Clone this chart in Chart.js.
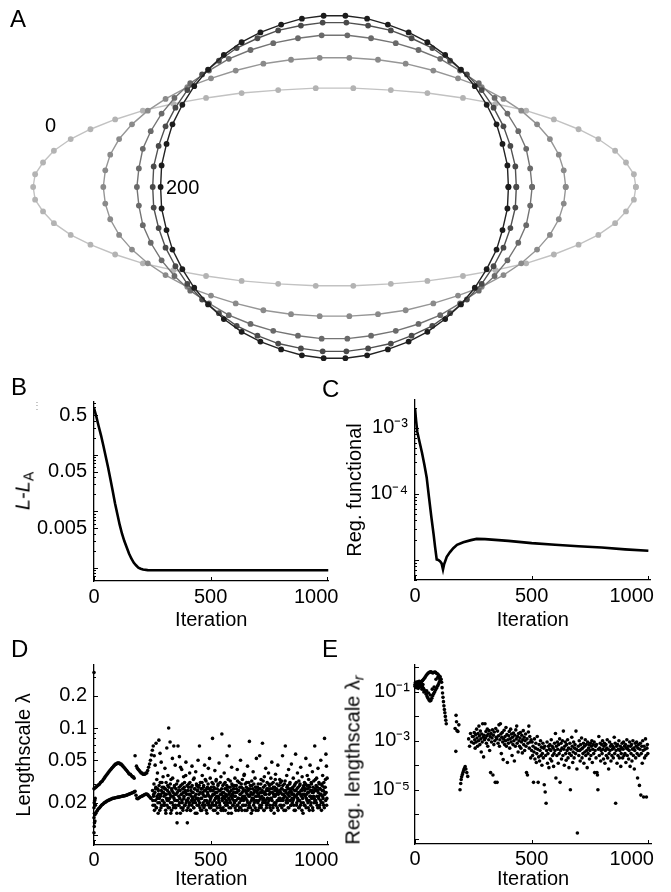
<!DOCTYPE html>
<html>
<head>
<meta charset="utf-8">
<script src="https://cdn.jsdelivr.net/npm/chart.js@4.4.0/dist/chart.umd.min.js"></script>
<style>
html,body{margin:0;padding:0;background:#fff;}
#wrap{position:relative;width:671px;height:892px;overflow:hidden;font-family:"Liberation Sans",Arial,Helvetica,sans-serif;color:#000;background:#fff;}
canvas{position:absolute;}
.lbl{position:absolute;line-height:1;white-space:nowrap;}
.ytitle{position:absolute;white-space:nowrap;font-size:20px;line-height:1;transform:translate(-50%,-50%) rotate(-90deg);}
.ytitle sub{font-size:14px;vertical-align:-4px;line-height:1;}
</style>
</head>
<body>
<div id="wrap">
<canvas id="cA" width="671" height="372" style="left:0px;top:0px"></canvas>
<canvas id="cB" width="340" height="245" style="left:0px;top:390px"></canvas>
<canvas id="cC" width="336" height="245" style="left:335px;top:390px"></canvas>
<canvas id="cD" width="340" height="237" style="left:0px;top:655px"></canvas>
<canvas id="cE" width="336" height="237" style="left:335px;top:655px"></canvas>

<div class="lbl" style="left:10px;top:7px;font-size:24px">A</div>
<div class="lbl" style="left:45px;top:115px;font-size:20px">0</div>
<div class="lbl" style="left:166px;top:177px;font-size:20px">200</div>
<div class="lbl" style="left:11px;top:375px;font-size:24px">B</div>
<div class="lbl" style="left:322px;top:377px;font-size:24px">C</div>
<div class="lbl" style="left:11px;top:637px;font-size:24px">D</div>
<div class="lbl" style="left:322px;top:637px;font-size:24px">E</div>
<div class="lbl" style="left:32px;top:401px;font-size:10px;color:#999">&#8942;</div>
<div class="ytitle" style="left:24px;top:491px"><i>L</i>-<i>L</i><sub>A</sub></div>
<div class="ytitle" style="left:354px;top:760px">Reg. lengthscale &#955;<sub><i>r</i></sub></div>
</div>

<script>
// ---------- Panel A: contour shapes (iterations 0 ... 200) ----------
const shapeLabels = ['0', '50', '100', '150', '200'];
const e0x = [3.05,3.03,2.95,2.84,2.67,2.47,2.22,1.94,1.63,1.30,0.94,0.57,0.19,-0.19,-0.57,-0.94,-1.30,-1.63,-1.94,-2.22,-2.47,-2.67,-2.84,-2.95,-3.03,-3.05,-3.03,-2.95,-2.84,-2.67,-2.47,-2.22,-1.94,-1.63,-1.30,-0.94,-0.57,-0.19,0.19,0.57,0.94,1.30,1.63,1.94,2.22,2.47,2.67,2.84,2.95,3.03];
const e0y = [0,0.13,0.25,0.37,0.49,0.59,0.69,0.78,0.85,0.91,0.96,0.99,1.01,1.01,0.99,0.96,0.91,0.85,0.78,0.69,0.59,0.49,0.37,0.25,0.13,0,-0.13,-0.25,-0.37,-0.49,-0.59,-0.69,-0.78,-0.85,-0.91,-0.96,-0.99,-1.01,-1.01,-0.99,-0.96,-0.91,-0.85,-0.78,-0.69,-0.59,-0.49,-0.37,-0.25,-0.13];
const e1x = [2.34,2.32,2.27,2.18,2.05,1.89,1.71,1.49,1.25,1.00,0.72,0.44,0.15,-0.15,-0.44,-0.72,-1.00,-1.25,-1.49,-1.71,-1.89,-2.05,-2.18,-2.27,-2.32,-2.34,-2.32,-2.27,-2.18,-2.05,-1.89,-1.71,-1.49,-1.25,-1.00,-0.72,-0.44,-0.15,0.15,0.44,0.72,1.00,1.25,1.49,1.71,1.89,2.05,2.18,2.27,2.32];
const e1y = [0,0.17,0.33,0.49,0.64,0.78,0.90,1.02,1.11,1.19,1.26,1.30,1.32,1.32,1.30,1.26,1.19,1.11,1.02,0.90,0.78,0.64,0.49,0.33,0.17,0,-0.17,-0.33,-0.49,-0.64,-0.78,-0.90,-1.02,-1.11,-1.19,-1.26,-1.30,-1.32,-1.32,-1.30,-1.26,-1.19,-1.11,-1.02,-0.90,-0.78,-0.64,-0.49,-0.33,-0.17];
const e2x = [2.00,1.98,1.94,1.86,1.75,1.62,1.46,1.27,1.07,0.85,0.62,0.37,0.13,-0.13,-0.37,-0.62,-0.85,-1.07,-1.27,-1.46,-1.62,-1.75,-1.86,-1.94,-1.98,-2.00,-1.98,-1.94,-1.86,-1.75,-1.62,-1.46,-1.27,-1.07,-0.85,-0.62,-0.37,-0.13,0.13,0.37,0.62,0.85,1.07,1.27,1.46,1.62,1.75,1.86,1.94,1.98];
const e2y = [0,0.19,0.39,0.57,0.75,0.91,1.06,1.19,1.31,1.40,1.47,1.52,1.55,1.55,1.52,1.47,1.40,1.31,1.19,1.06,0.91,0.75,0.57,0.39,0.19,0,-0.19,-0.39,-0.57,-0.75,-0.91,-1.06,-1.19,-1.31,-1.40,-1.47,-1.52,-1.55,-1.55,-1.52,-1.47,-1.40,-1.31,-1.19,-1.06,-0.91,-0.75,-0.57,-0.39,-0.19];
const e3x = [1.84,1.83,1.78,1.71,1.61,1.49,1.34,1.17,0.99,0.78,0.57,0.34,0.12,-0.12,-0.34,-0.57,-0.78,-0.99,-1.17,-1.34,-1.49,-1.61,-1.71,-1.78,-1.83,-1.84,-1.83,-1.78,-1.71,-1.61,-1.49,-1.34,-1.17,-0.99,-0.78,-0.57,-0.34,-0.12,0.12,0.34,0.57,0.78,0.99,1.17,1.34,1.49,1.61,1.71,1.78,1.83];
const e3y = [0,0.21,0.42,0.62,0.81,0.99,1.15,1.29,1.42,1.52,1.60,1.65,1.68,1.68,1.65,1.60,1.52,1.42,1.29,1.15,0.99,0.81,0.62,0.42,0.21,0,-0.21,-0.42,-0.62,-0.81,-0.99,-1.15,-1.29,-1.42,-1.52,-1.60,-1.65,-1.68,-1.68,-1.65,-1.60,-1.52,-1.42,-1.29,-1.15,-0.99,-0.81,-0.62,-0.42,-0.21];
const e4x = [1.76,1.75,1.70,1.64,1.54,1.42,1.28,1.12,0.94,0.75,0.54,0.33,0.11,-0.11,-0.33,-0.54,-0.75,-0.94,-1.12,-1.28,-1.42,-1.54,-1.64,-1.70,-1.75,-1.76,-1.75,-1.70,-1.64,-1.54,-1.42,-1.28,-1.12,-0.94,-0.75,-0.54,-0.33,-0.11,0.11,0.33,0.54,0.75,0.94,1.12,1.28,1.42,1.54,1.64,1.70,1.75];
const e4y = [0,0.22,0.44,0.64,0.84,1.03,1.20,1.35,1.48,1.58,1.66,1.72,1.75,1.75,1.72,1.66,1.58,1.48,1.35,1.20,1.03,0.84,0.64,0.44,0.22,0,-0.22,-0.44,-0.64,-0.84,-1.03,-1.20,-1.35,-1.48,-1.58,-1.66,-1.72,-1.75,-1.75,-1.72,-1.66,-1.58,-1.48,-1.35,-1.20,-1.03,-0.84,-0.64,-0.44,-0.22];

// ---------- Axis ticks ----------
const iterTicks = [0, 500, 1000];
const iterTickLabels = ['0', '500', '1000'];
const bTicks = [0.5, 0.05, 0.005];
const bTickLabels = ['0.5', '0.05', '0.005'];
const cTicks = [1e-3, 1e-4];
const cTickLabels = ['10\u207B\u00B3', '10\u207B\u2074'];
const dTicks = [0.2, 0.1, 0.05, 0.02];
const dTickLabels = ['0.2', '0.1', '0.05', '0.02'];
const eTicks = [1e-1, 1e-3, 1e-5];
const eTickLabels = ['10\u207B\u00B9', '10\u207B\u00B3', '10\u207B\u2075'];

// ---------- Panel B: L - L_A ----------
const bIter = [0,10,20,30,40,50,60,70,80,90,100,110,120,130,140,150,160,170,180,190,200,210,230,260,300,400,500,600,700,800,900,1005];
const bVal = [0.66,0.468,0.316,0.219,0.145,0.0933,0.0603,0.0372,0.0229,0.0138,0.00891,0.00575,0.00398,0.00295,0.00229,0.00178,0.00145,0.00123,0.0011,0.001,0.000955,0.000923,0.000902,0.0009,0.0009,0.0009,0.0009,0.0009,0.0009,0.0009,0.0009,0.0009];

// ---------- Panel C: regularisation functional ----------
const cIter = [0,5,10,20,30,40,50,60,70,80,86,93,100,108,114,120,125,129,136,150,164,180,207,240,264,300,400,500,600,700,800,900,1000];
const cVal = [2.0e-3,1.26e-3,8.7e-4,6.0e-4,4.2e-4,2.8e-4,1.78e-4,8.9e-5,4.5e-5,2.4e-5,1.58e-5,1.02e-5,1.0e-5,9.5e-6,8.9e-6,7.2e-6,8.7e-6,9.5e-6,1.12e-5,1.32e-5,1.51e-5,1.7e-5,1.86e-5,2.0e-5,2.09e-5,2.07e-5,1.95e-5,1.8e-5,1.7e-5,1.62e-5,1.55e-5,1.45e-5,1.38e-5];

// ---------- Iterations of the scattered phase (D and E) ----------
const scatterIter = [
250,252,254,256,258,260,262,264,266,268,270,272,274,276,278,280,282,284,286,288,290,292,294,296,298,
300,302,304,306,308,310,312,314,316,318,320,322,324,326,328,330,332,334,336,338,340,342,344,346,348,
350,352,354,356,358,360,362,364,366,368,370,372,374,376,378,380,382,384,386,388,390,392,394,396,398,
400,402,404,406,408,410,412,414,416,418,420,422,424,426,428,430,432,434,436,438,440,442,444,446,448,
450,452,454,456,458,460,462,464,466,468,470,472,474,476,478,480,482,484,486,488,490,492,494,496,498,
500,502,504,506,508,510,512,514,516,518,520,522,524,526,528,530,532,534,536,538,540,542,544,546,548,
550,552,554,556,558,560,562,564,566,568,570,572,574,576,578,580,582,584,586,588,590,592,594,596,598,
600,602,604,606,608,610,612,614,616,618,620,622,624,626,628,630,632,634,636,638,640,642,644,646,648,
650,652,654,656,658,660,662,664,666,668,670,672,674,676,678,680,682,684,686,688,690,692,694,696,698,
700,702,704,706,708,710,712,714,716,718,720,722,724,726,728,730,732,734,736,738,740,742,744,746,748,
750,752,754,756,758,760,762,764,766,768,770,772,774,776,778,780,782,784,786,788,790,792,794,796,798,
800,802,804,806,808,810,812,814,816,818,820,822,824,826,828,830,832,834,836,838,840,842,844,846,848,
850,852,854,856,858,860,862,864,866,868,870,872,874,876,878,880,882,884,886,888,890,892,894,896,898,
900,902,904,906,908,910,912,914,916,918,920,922,924,926,928,930,932,934,936,938,940,942,944,946,948,
950,952,954,956,958,960,962,964,966,968,970,972,974,976,978,980,982,984,986,988,990,992,994,996,998];
const scatterIterOdd = [
251,253,255,257,259,261,263,265,267,269,271,273,275,277,279,281,283,285,287,289,291,293,295,297,299,
301,303,305,307,309,311,313,315,317,319,321,323,325,327,329,331,333,335,337,339,341,343,345,347,349,
351,353,355,357,359,361,363,365,367,369,371,373,375,377,379,381,383,385,387,389,391,393,395,397,399,
401,403,405,407,409,411,413,415,417,419,421,423,425,427,429,431,433,435,437,439,441,443,445,447,449,
451,453,455,457,459,461,463,465,467,469,471,473,475,477,479,481,483,485,487,489,491,493,495,497,499,
501,503,505,507,509,511,513,515,517,519,521,523,525,527,529,531,533,535,537,539,541,543,545,547,549,
551,553,555,557,559,561,563,565,567,569,571,573,575,577,579,581,583,585,587,589,591,593,595,597,599,
601,603,605,607,609,611,613,615,617,619,621,623,625,627,629,631,633,635,637,639,641,643,645,647,649,
651,653,655,657,659,661,663,665,667,669,671,673,675,677,679,681,683,685,687,689,691,693,695,697,699,
701,703,705,707,709,711,713,715,717,719,721,723,725,727,729,731,733,735,737,739,741,743,745,747,749,
751,753,755,757,759,761,763,765,767,769,771,773,775,777,779,781,783,785,787,789,791,793,795,797,799,
801,803,805,807,809,811,813,815,817,819,821,823,825,827,829,831,833,835,837,839,841,843,845,847,849,
851,853,855,857,859,861,863,865,867,869,871,873,875,877,879,881,883,885,887,889,891,893,895,897,899,
901,903,905,907,909,911,913,915,917,919,921,923,925,927,929,931,933,935,937,939,941,943,945,947,949,
951,953,955,957,959,961,963,965,967,969,971,973,975,977,979,981,983,985,987,989,991,993,995,997,999];

// ---------- Panel D: lengthscale ----------
const dStartIter = [0,0,1,2,1,3,2,0,4,5,6];
const dStartVal = [0.33,0.0105,0.012,0.013,0.020,0.021,0.016,0.018,0.0135,0.022,0.019];
const dUpperIter = [0,4,8,12,16,20,24,28,32,36,40,44,48,52,56,60,64,68,72,76,80,84,88,92,96,100,104,108,112,116,120,124,128,132,136,140,144,148,152,156,160,164,168,172];
const dUpperVal = [.027,.0275,.028,.0285,.029,.0295,.030,.031,.0315,.032,.033,.034,.035,.036,.037,.038,.039,.040,.041,.042,.043,.044,.045,.046,.046,.047,.047,.047,.046,.046,.045,.044,.043,.042,.041,.040,.039,.038,.037,.037,.036,.035,.035,.034];
const dUpper2Iter = [176,182,186,190,194,198,202,206,210,214,218,222,226,230,234,238,242,246];
const dUpper2Val = [.055,.044,.042,.041,.040,.039,.038,.038,.037,.037,.037,.038,.038,.040,.043,.046,.050,.056];
const dLowerIter = [0,4,8,12,16,20,24,28,32,36,40,44,48,52,56,60,64,68,72,76,80,84,88,92,96,100,104,108,112,116,120,124,128,132,136,140,144,148,152,156,160,164,168,172,176,180,184,188,192,196,200,204,208,212,216,220,224,228,232,236,240,244];
const dLowerVal = [.0145,.0155,.016,.0167,.0172,.0177,.018,.0185,.019,.0193,.0196,.020,.0202,.0205,.0208,.021,.0212,.0214,.0216,.0218,.022,.0221,.0222,.0223,.0224,.0225,.0226,.0227,.0228,.0229,.023,.0231,.0232,.0233,.0234,.0236,.0238,.024,.0242,.0244,.0246,.0248,.025,.0253,.0256,.0235,.022,.0218,.0222,.0225,.0228,.023,.0232,.0235,.0238,.024,.0242,.024,.0236,.023,.0225,.022];
const dScatterVal = [
.062,.021,.068,.024,.055,.019,.045,.027,.072,.018,.023,.038,.020,.026,.077,.022,.017,.031,.024,.048,.019,.028,.021,.035,.025,
.023,.019,.042,.027,.016,.024,.065,.021,.029,.018,.1,.025,.022,.074,.020,.033,.017,.026,.052,.023,.019,.068,.028,.021,.045,
.018,.024,.030,.013,.021,.068,.026,.019,.054,.022,.016,.029,.024,.041,.020,.027,.018,.035,.023,.031,.019,.025,.048,.021,.017,
.013,.026,.022,.030,.019,.038,.024,.017,.028,.021,.044,.025,.020,.033,.018,.027,.023,.016,.039,.022,.029,.019,.026,.050,.021,
.024,.068,.018,.031,.022,.027,.017,.036,.025,.020,.029,.023,.045,.019,.026,.032,.021,.016,.028,.024,.042,.020,.027,.018,.034,
.022,.026,.019,.031,.080,.024,.017,.028,.021,.040,.025,.019,.033,.023,.027,.016,.030,.022,.047,.020,.026,.018,.035,.024,.088,
.021,.029,.017,.025,.038,.022,.031,.019,.027,.023,.055,.020,.028,.016,.024,.068,.021,.032,.018,.026,.043,.022,.029,.019,.025,
.027,.020,.034,.023,.017,.029,.025,.041,.019,.026,.022,.031,.018,.024,.050,.021,.028,.017,.033,.023,.026,.019,.037,.022,.030,
.019,.025,.031,.021,.044,.027,.018,.023,.075,.020,.029,.024,.016,.032,.022,.027,.039,.019,.025,.021,.034,.028,.017,.052,.023,
.026,.020,.030,.023,.018,.055,.027,.022,.033,.019,.025,.072,.021,.028,.017,.035,.024,.020,.042,.026,.019,.031,.022,.027,.038,
.021,.029,.018,.025,.034,.022,.048,.027,.019,.031,.024,.016,.028,.023,.037,.020,.026,.030,.018,.045,.024,.021,.029,.033,.022,
.025,.019,.032,.027,.055,.021,.024,.017,.030,.023,.068,.026,.020,.036,.022,.029,.018,.041,.025,.021,.031,.027,.019,.046,.024,
.020,.028,.034,.022,.017,.026,.030,.057,.023,.019,.027,.038,.021,.025,.032,.018,.029,.024,.043,.020,.026,.035,.022,.016,.028,
.024,.031,.019,.027,.052,.022,.029,.036,.025,.018,.033,.021,.028,.045,.023,.020,.030,.026,.039,.017,.025,.032,.022,.068,.027,
.021,.029,.034,.019,.026,.042,.023,.031,.018,.027,.024,.050,.020,.030,.026,.036,.022,.019,.028,.080,.025,.033,.057,.044,.022];
const dScatterValOdd = [
.026,.019,.023,.030,.017,.025,.021,.028,.018,.033,.022,.027,.016,.024,.029,.020,.058,.023,.018,.026,.031,.021,.025,.019,.028,
.020,.027,.024,.017,.031,.022,.019,.026,.036,.021,.028,.018,.024,.030,.016,.023,.027,.020,.034,.025,.018,.022,.029,.024,.019,
.027,.021,.016,.025,.032,.019,.023,.028,.020,.026,.043,.018,.024,.021,.030,.017,.025,.022,.028,.019,.026,.036,.020,.024,.029,
.021,.018,.028,.024,.020,.031,.017,.026,.023,.019,.029,.022,.025,.018,.034,.021,.027,.020,.024,.030,.016,.026,.022,.028,.019,
.029,.020,.025,.017,.027,.022,.031,.019,.024,.028,.018,.026,.021,.033,.023,.017,.027,.020,.025,.030,.019,.023,.052,.021,.026,
.018,.028,.023,.020,.026,.030,.019,.024,.027,.017,.022,.032,.020,.025,.018,.029,.023,.021,.026,.019,.031,.024,.017,.027,.022,
.025,.018,.023,.030,.020,.027,.017,.024,.021,.029,.019,.026,.033,.022,.018,.025,.028,.020,.023,.016,.030,.024,.019,.027,.021,
.023,.029,.018,.025,.021,.027,.019,.032,.022,.017,.026,.020,.028,.024,.018,.030,.022,.025,.019,.027,.021,.036,.023,.017,.026,
.022,.028,.017,.024,.020,.026,.031,.019,.023,.027,.018,.025,.021,.029,.017,.024,.022,.030,.020,.026,.018,.023,.028,.021,.025,
.028,.017,.024,.021,.027,.019,.025,.030,.018,.023,.026,.020,.032,.022,.017,.025,.029,.021,.024,.018,.027,.022,.020,.026,.030,
.024,.019,.027,.022,.017,.030,.021,.025,.018,.028,.023,.020,.026,.033,.019,.024,.027,.021,.025,.017,.029,.022,.026,.019,.031,
.021,.027,.018,.024,.029,.022,.019,.026,.023,.032,.017,.025,.021,.028,.020,.024,.027,.018,.023,.030,.021,.026,.019,.025,.022,
.027,.021,.024,.019,.029,.023,.017,.026,.031,.020,.024,.022,.028,.018,.025,.021,.030,.019,.026,.023,.017,.027,.024,.020,.029,
.019,.026,.023,.030,.018,.024,.021,.027,.020,.025,.029,.017,.023,.026,.019,.031,.022,.025,.018,.028,.023,.020,.026,.021,.033,
.026,.020,.023,.028,.018,.025,.022,.030,.019,.027,.021,.024,.017,.029,.023,.020,.026,.031,.018,.024,.028,.021,.025,.019,.034];

// ---------- Panel E: regularisation lengthscale ----------
const eUpperIter = [0,4,8,12,16,20,24,28,32,36,40,44,48,52,56,60,64,68,72,76,80,84,88,92,96,100,104,108,112,114,116,118,120,122,124,126,128,130,132,134];
const eUpperVal = [.2,.21,.22,.22,.23,.24,.25,.27,.29,.32,.36,.41,.47,.53,.58,.62,.65,.66,.64,.60,.62,.65,.63,.58,.55,.5,.45,.42,.33,.25,.15,.09,.06,.04,.027,.019,.014,.010,.007,.005];
const eLowerIter = [0,4,8,12,16,20,24,28,32,36,40,44,48,52,56,60,64,68,72,76,80,84,88,92,96,100,104,108];
const eLowerVal = [.17,.18,.19,.18,.19,.2,.19,.18,.16,.14,.12,.1,.08,.065,.055,.047,.043,.045,.055,.07,.085,.1,.12,.14,.17,.2,.25,.3];
const eLooseIter = [2,6,10,14,18,22,26,30,34,38,50,58,66,74,82,90,98,106];
const eLooseVal = [.25,.15,.26,.14,.27,.16,.23,.13,.2,.1,.11,.09,.075,.13,.16,.33,.4,.35];
const eMidIter = [172,175,176,178,180,184,188,193,196,198,200,203,206,209,212,215,218,222,226,230,234,238,242,246];
const eMidVal = [.0032,3.7e-4,.011,.006,.0026,.0024,.0045,1e-5,1.8e-5,2.6e-5,3.4e-5,4.2e-5,5.2e-5,6.3e-5,7.5e-5,8.8e-5,7e-5,5e-5,3.5e-5,1.2e-3,6e-4,2e-3,9e-4,1.5e-3];
const eScatterVal = [
1.5e-3,8e-4,2.2e-3,1.1e-3,5e-4,1.8e-3,9e-4,3e-3,1.3e-3,6e-4,2e-3,1e-3,4e-3,1.6e-3,7e-4,2.5e-3,1.2e-3,3.5e-4,1.9e-3,9e-4,5e-3,1.4e-3,2.2e-4,1.7e-3,1.1e-3,
5e-3,1.3e-3,2.4e-3,8e-4,1.6e-3,3e-3,6e-4,1.9e-3,1.1e-3,2.6e-3,4e-4,1.5e-3,5e-5,2e-3,9e-4,1.3e-3,2.8e-3,4e-5,1.7e-3,7e-4,2.3e-3,1e-3,2e-5,3.2e-3,1.4e-3,
1.2e-3,2e-5,2.5e-3,8e-4,1.6e-3,4.5e-3,6e-4,1.1e-3,5e-3,1.9e-3,3e-4,1.4e-3,2.2e-3,9e-4,1.7e-4,1.2e-3,2.7e-3,7e-4,1.5e-3,1e-3,3.5e-3,6e-4,1.8e-3,1.3e-4,1.1e-3,
8e-4,1.6e-3,2.4e-3,5e-4,1.2e-3,3e-3,9e-4,1.9e-3,2.5e-4,1.4e-3,7e-4,2.1e-3,1e-3,1.5e-4,1.7e-3,6e-4,2.8e-3,1.2e-3,4e-3,8e-4,1.5e-3,3.5e-4,2e-3,1e-3,6e-4,
1.3e-3,2.2e-3,5e-4,9e-4,1.7e-3,3.2e-4,1.1e-3,2.6e-3,7e-4,1.4e-3,4e-4,1e-3,1.9e-3,6e-4,5e-5,1.2e-3,4e-5,8e-4,2.3e-3,4e-3,5e-4,1.5e-3,9e-4,2e-4,1.1e-3,
4e-4,9e-4,2.5e-4,6e-4,2e-5,3.5e-4,1.2e-3,1.8e-4,5e-4,8e-4,1.3e-4,3e-4,1.5e-3,4.5e-4,2e-5,2.2e-4,7e-4,1.5e-4,4e-4,1e-3,2.5e-4,5.5e-4,1e-4,3e-4,8e-4,
2e-4,5e-4,1.6e-5,6e-4,8e-6,2.5e-4,2.8e-6,4e-4,9e-4,1.2e-4,3e-4,6e-4,8e-5,4.5e-4,7e-4,1.8e-4,4e-4,1.1e-3,1.5e-4,6e-4,2.5e-4,5e-4,9e-5,3e-4,8e-4,
4e-4,2e-3,3e-5,6e-4,2.5e-4,9e-4,4.5e-4,1.2e-4,7e-4,3e-4,1.2e-3,2e-5,4e-4,8e-4,1.8e-4,5e-4,1e-3,2.5e-4,2.5e-3,4.5e-4,1e-4,6e-4,9e-4,3e-4,1.6e-4,
7e-4,4e-4,1.1e-3,2e-4,5e-4,8e-5,3e-4,8e-4,1e-5,4.5e-4,2.5e-4,1.4e-3,6e-4,1.3e-4,3.5e-4,9e-4,2e-4,5e-4,7e-4,3e-4,2.5e-3,4.5e-4,7e-5,1.7e-7,4e-4,
6e-4,2.5e-4,1e-3,4e-4,1.5e-4,7e-4,4.5e-4,1.3e-3,2e-4,5e-4,3e-4,8e-4,1.2e-4,6e-4,3.5e-4,1.1e-3,2.5e-4,7e-4,4e-4,8e-5,9e-4,3e-4,5e-4,7e-4,1.8e-4,
4e-4,8e-4,2.5e-4,6e-4,1e-3,1.3e-4,4.5e-4,7e-4,3e-4,9e-4,5e-5,4e-4,6e-4,2e-4,7e-4,5e-5,4e-5,1e-5,4.5e-4,1.5e-3,2.5e-4,5e-4,8e-4,1.5e-4,4e-4,
7e-4,3e-4,1e-3,4.5e-4,1.8e-4,6e-4,8e-4,1.2e-4,4e-4,7e-4,2.5e-4,5e-4,1.1e-3,2e-4,4.5e-4,7e-5,3e-4,9e-4,4e-4,6e-4,1.5e-4,7e-4,2.5e-4,4.5e-4,6e-4,
2e-4,5e-4,1.4e-3,3e-4,8e-4,2.8e-6,4e-4,6e-4,1.2e-4,7e-4,2.5e-4,4.5e-4,1e-3,2e-4,4e-4,6e-4,9e-5,3e-4,5e-4,8e-4,2e-4,4.5e-4,9e-4,2.5e-4,6e-4,
3e-4,7e-4,1.3e-4,5e-4,1.1e-3,2.5e-4,4.5e-4,6e-4,1.8e-4,4e-4,9e-4,9e-5,6e-4,3e-4,7e-4,1.5e-4,4.5e-4,1e-3,2.5e-4,5e-4,7e-5,4e-4,8e-4,2e-4,6e-4,
9e-4,3e-4,3e-5,5e-4,7e-4,2.5e-4,1.5e-5,4.5e-4,8e-4,6e-6,3e-4,6e-4,1.2e-4,1e-3,4e-4,5e-6,6e-4,2e-4,4.5e-4,1.2e-3,2.5e-4,5e-6,5e-4,7e-4,3e-4];

// ---------- Rendering ----------
const FONT = "'Liberation Sans', Arial, Helvetica, sans-serif";
Chart.defaults.font.family = FONT;
Chart.defaults.color = '#000';

function pts(xs, ys) { return xs.map((x, i) => ({ x: x, y: ys[i] })); }

const innerTicks = {
  id: 'innerTicks',
  afterDraw(chart, args, opts) {
    const ctx = chart.ctx, a = chart.chartArea, xs = chart.scales.x, ys = chart.scales.y;
    ctx.save();
    ctx.strokeStyle = '#000';
    ctx.lineWidth = 1;
    ctx.beginPath();
    xs.ticks.forEach(t => {
      const p = Math.round(xs.getPixelForValue(t.value)) + 0.5;
      ctx.moveTo(p, a.bottom); ctx.lineTo(p, a.bottom - 4);
    });
    ys.ticks.forEach(t => {
      const p = Math.round(ys.getPixelForValue(t.value)) + 0.5;
      ctx.moveTo(a.left, p); ctx.lineTo(a.left + 4, p);
    });
    const lo = Math.floor(Math.log10(ys.min)), hi = Math.ceil(Math.log10(ys.max));
    for (let k = lo; k <= hi; k++) {
      for (let m = 1; m <= 9; m++) {
        if (opts.minor === 'decade' && m !== 1) continue;
        const v = m * Math.pow(10, k);
        if (v < ys.min || v > ys.max) continue;
        const p = Math.round(ys.getPixelForValue(v)) + 0.5;
        ctx.moveTo(a.left, p); ctx.lineTo(a.left + (m === 1 ? 4 : 2), p);
      }
    }
    ctx.stroke();
    ctx.restore();
  }
};

function zeroPad(s) { s.paddingLeft = 0; s.paddingRight = 0; s.paddingTop = 0; s.paddingBottom = 0; }

function makePanel(id, o) {
  return new Chart(document.getElementById(id), {
    type: 'scatter',
    data: { datasets: o.datasets },
    options: {
      responsive: false,
      animation: false,
      devicePixelRatio: 1,
      events: [],
      layout: { padding: o.pad, autoPadding: false },
      plugins: { legend: { display: false }, tooltip: { enabled: false }, innerTicks: { minor: o.minor } },
      scales: {
        x: {
          type: 'linear', min: 0, max: o.xMax,
          grid: { display: false, drawTicks: false },
          border: { display: true, color: '#000', width: 1.3 },
          ticks: {
            font: { size: 20 }, color: '#000', padding: o.xTickPad, autoSkip: false, maxRotation: 0, minRotation: 0,
            callback: (v, i) => iterTickLabels[i] + (i === iterTickLabels.length - 1 ? o.lastShift : '')
          },
          afterBuildTicks: s => { s.ticks = iterTicks.map(v => ({ value: v })); },
          afterFit: s => { s.height = o.xH; zeroPad(s); },
          title: { display: true, text: 'Iteration', font: { size: 20 }, color: '#000', padding: { top: 0, bottom: o.xTitlePad } }
        },
        y: {
          type: 'logarithmic', min: o.yMin, max: o.yMax,
          grid: { display: false, drawTicks: false },
          border: { display: true, color: '#000', width: 1.3 },
          ticks: {
            font: { size: 20 }, color: '#000', padding: o.yTickPad, autoSkip: false,
            callback: (v, i) => o.yTickLabels[i]
          },
          afterBuildTicks: s => { s.ticks = o.yTicks.map(v => ({ value: v })); },
          afterFit: s => { s.width = o.yW; zeroPad(s); },
          title: o.yTitle
            ? { display: true, text: o.yTitle, font: { size: 20 }, color: '#000', padding: { top: o.yTitlePad, bottom: 0 } }
            : { display: false }
        }
      }
    },
    plugins: [innerTicks]
  });
}

// Panel A
(function () {
  const xsA = [e0x, e1x, e2x, e3x, e4x];
  const ysA = [e0y, e1y, e2y, e3y, e4y];
  const dotColors = ['#b3b3b3', '#8a8a8a', '#6a6a6a', '#4a4a4a', '#1c1c1c'];
  const lineColors = ['#c2c2c2', '#969696', '#747474', '#515151', '#222222'];
  const datasets = [];
  for (let i = xsA.length - 1; i >= 0; i--) {
    const d = pts(xsA[i], ysA[i]);
    d.push({ x: xsA[i][0], y: ysA[i][0] });
    datasets.push({
      label: shapeLabels[i], data: d, showLine: true,
      borderColor: lineColors[i], borderWidth: 1.4,
      pointRadius: 2.9, pointBackgroundColor: dotColors[i], pointBorderWidth: 0,
      clip: false
    });
  }
  new Chart(document.getElementById('cA'), {
    type: 'scatter',
    data: { datasets: datasets },
    options: {
      responsive: false, animation: false, devicePixelRatio: 1, events: [],
      layout: { padding: 0 },
      plugins: { legend: { display: false }, tooltip: { enabled: false } },
      scales: {
        x: { type: 'linear', display: false, min: -3.345, max: 3.365 },
        y: { type: 'linear', display: false, min: -1.85, max: 1.87 }
      }
    }
  });
})();

// Panel B
makePanel('cB', {
  datasets: [{ data: pts(bIter, bVal), showLine: true, borderColor: '#000', borderWidth: 2.6, pointRadius: 0, tension: 0 }],
  pad: { left: 0, right: 11.5, top: 12, bottom: 0 },
  xMax: 1005, xH: 54, xTickPad: 4, xTitlePad: 3, lastShift: '    ',
  yMin: 0.00058, yMax: 0.85, yW: 94, yTickPad: 7,
  yTicks: bTicks, yTickLabels: bTickLabels, yTitle: null, minor: 'full'
});

// Panel C
makePanel('cC', {
  datasets: [{ data: pts(cIter, cVal), showLine: true, borderColor: '#000', borderWidth: 2.6, pointRadius: 0, tension: 0 }],
  pad: { left: 0, right: 20.3, top: 10, bottom: 0 },
  xMax: 1010, xH: 55, xTickPad: 4, xTitlePad: 3, lastShift: '      ',
  yMin: 4.98e-6, yMax: 2.65e-3, yW: 80, yTickPad: 7,
  yTicks: cTicks, yTickLabels: cTickLabels, yTitle: 'Reg. functional', yTitlePad: 8, minor: 'full'
});

// Panel D
const dPts = [].concat(
  pts(dStartIter, dStartVal), pts(dUpperIter, dUpperVal), pts(dUpper2Iter, dUpper2Val),
  pts(dLowerIter, dLowerVal), pts(scatterIter, dScatterVal), pts(scatterIterOdd, dScatterValOdd));
makePanel('cD', {
  datasets: [{ data: dPts, showLine: false, pointRadius: 1.8, pointBackgroundColor: '#000', pointBorderWidth: 0, clip: false }],
  pad: { left: 0, right: 11.5, top: 10, bottom: 0 },
  xMax: 1005, xH: 47, xTickPad: 3, xTitlePad: 1, lastShift: '    ',
  yMin: 0.00807, yMax: 0.388, yW: 94, yTickPad: 7,
  yTicks: dTicks, yTickLabels: dTickLabels, yTitle: 'Lengthscale \u03BB', yTitlePad: 12, minor: 'full'
});

// Panel E
const ePts = [].concat(
  pts(eUpperIter, eUpperVal), pts(eLowerIter, eLowerVal), pts(eLooseIter, eLooseVal),
  pts(eMidIter, eMidVal), pts(scatterIter, eScatterVal));
makePanel('cE', {
  datasets: [{ data: ePts, showLine: false, pointRadius: 1.8, pointBackgroundColor: '#000', pointBorderWidth: 0, clip: false }],
  pad: { left: 0, right: 19.9, top: 10, bottom: 0 },
  xMax: 1012, xH: 48, xTickPad: 3, xTitlePad: 1, lastShift: '      ',
  yMin: 6.25e-8, yMax: 1.265, yW: 80, yTickPad: 5,
  yTicks: eTicks, yTickLabels: eTickLabels, yTitle: null, minor: 'decade'
});
</script>
</body>
</html>
